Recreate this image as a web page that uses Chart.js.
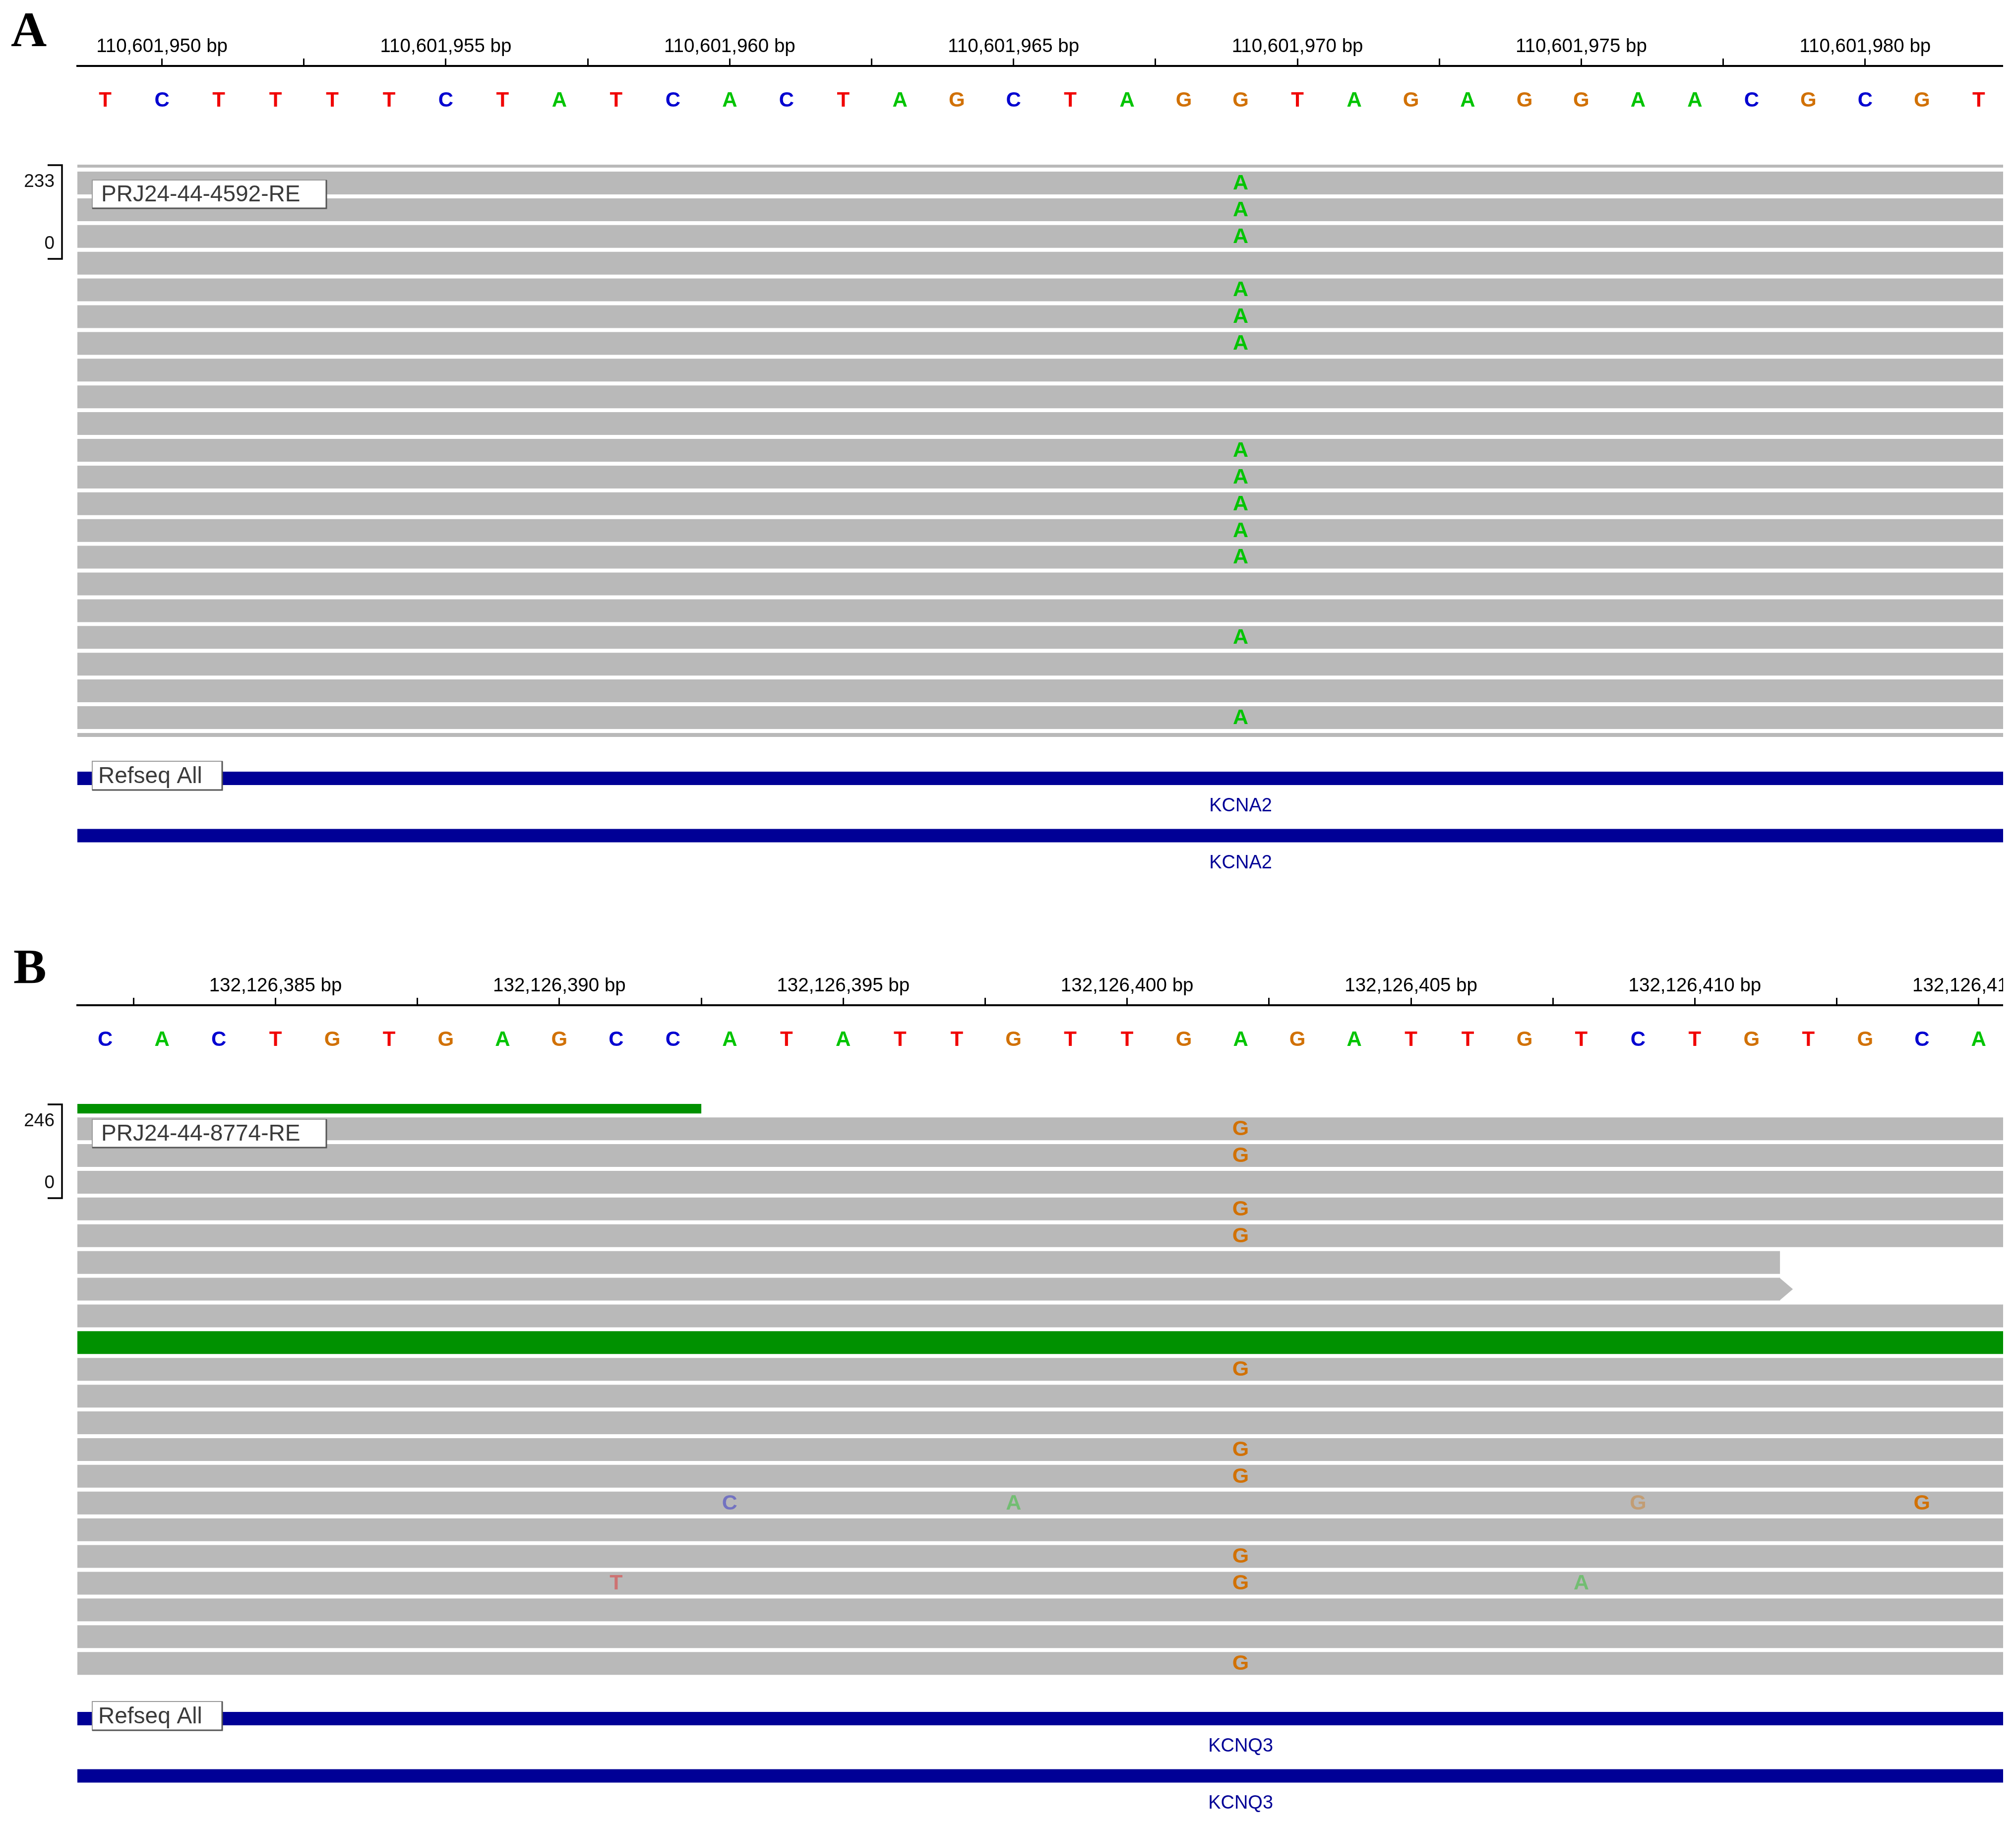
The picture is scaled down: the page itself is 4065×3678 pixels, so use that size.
<!DOCTYPE html>
<html>
<head>
<meta charset="utf-8">
<script src="https://cdn.jsdelivr.net/npm/chart.js@4.4.1/dist/chart.umd.min.js"></script>
<style>
html,body{margin:0;padding:0;background:#fff;}
#fig{position:relative;width:4065px;height:3678px;background:#fff;overflow:hidden;}
#fig canvas{position:absolute;left:0;}
</style>
</head>
<body>
<div id="fig">
<canvas id="readsA" width="4065" height="1486" style="top:0px"></canvas>
<canvas id="genesA" width="4065" height="408" style="top:1486px"></canvas>
<canvas id="readsB" width="4065" height="1486" style="top:1894px"></canvas>
<canvas id="genesB" width="4065" height="298" style="top:3380px"></canvas>
</div>
<script>
// ---------------- DATA : panel A (KCNA2) ----------------
const sampleA = 'PRJ24-44-4592-RE';
const viewA = [110601948.51, 110601982.43];          // visible genomic window (bp)
const locusA = 110601969;                            // IGV locus (window centre)
const rulerMajorA = [110601950, 110601955, 110601960, 110601965, 110601970, 110601975, 110601980];
const seqStartA = 110601949;
const basesA = ['T','C','T','T','T','T','C','T','A','T','C','A','C','T','A','G','C','T','A','G','G','T','A','G','A','G','G','A','A','C','G','C','G','T'];
const coverageRangeA = [0, 233];
const readRowA   = [-1, 0, 1, 2, 3, 4, 5, 6, 7, 8, 9, 10, 11, 12, 13, 14, 15, 16, 17, 18, 19, 20, 21];
const readFirstA = [110601836, 110601862, 110601841, 110601877, 110601855, 110601845, 110601868, 110601846, 110601873, 110601838, 110601859, 110601881, 110601850, 110601837, 110601866, 110601843, 110601875, 110601857, 110601840, 110601870, 110601848, 110601863, 110601839];
const readLastA  = [110601985, 110602011, 110601990, 110602026, 110602004, 110601994, 110602017, 110601995, 110602022, 110601987, 110602008, 110602030, 110601999, 110601986, 110602015, 110601992, 110602024, 110602006, 110601989, 110602019, 110601997, 110602012, 110601988];
const readStrandA = ['+','-','+','-','+','+','-','+','-','-','+','-','+','+','-','+','-','-','+','-','+','+','-'];
const readInsertA = ['normal','normal','normal','normal','normal','normal','normal','normal','normal','normal','normal','normal','normal','normal','normal','normal','normal','normal','normal','normal','normal','normal','normal'];
const mmRowA  = [0, 1, 2, 4, 5, 6, 10, 11, 12, 13, 14, 17, 20];
const mmPosA  = [110601969, 110601969, 110601969, 110601969, 110601969, 110601969, 110601969, 110601969, 110601969, 110601969, 110601969, 110601969, 110601969];
const mmBaseA = ['A','A','A','A','A','A','A','A','A','A','A','A','A'];
const mmQualA = ['high','high','high','high','high','high','high','high','high','high','high','high','high'];
const geneNameA  = ['KCNA2', 'KCNA2'];
const geneStartA = [110593578, 110593578];
const geneEndA   = [110631478, 110631478];

// ---------------- DATA : panel B (KCNQ3) ----------------
const sampleB = 'PRJ24-44-8774-RE';
const viewB = [132126381.51, 132126415.43];
const locusB = 132126402;
const rulerMajorB = [132126385, 132126390, 132126395, 132126400, 132126405, 132126410, 132126415];
const seqStartB = 132126382;
const basesB = ['C','A','C','T','G','T','G','A','G','C','C','A','T','A','T','T','G','T','T','G','A','G','A','T','T','G','T','C','T','G','T','G','C','A'];
const coverageRangeB = [0, 246];
const readRowB   = [-1, 0, 1, 2, 3, 4, 5, 6, 7, 8, 9, 10, 11, 12, 13, 14, 15, 16, 17, 18, 19, 20];
const readFirstB = [132126243, 132126290, 132126301, 132126285, 132126312, 132126296, 132126262, 132126262, 132126318, 132126305, 132126288, 132126322, 132126299, 132126310, 132126283, 132126315, 132126293, 132126307, 132126280, 132126319, 132126302, 132126287];
const readLastB  = [132126392, 132126439, 132126450, 132126434, 132126461, 132126445, 132126411, 132126411, 132126467, 132126454, 132126437, 132126471, 132126448, 132126459, 132126432, 132126464, 132126442, 132126456, 132126429, 132126468, 132126451, 132126436];
const readStrandB = ['-','+','-','+','-','+','-','+','-','+','-','+','-','+','-','+','-','+','-','+','-','+'];
const readInsertB = ['large','normal','normal','normal','normal','normal','normal','normal','normal','large','normal','normal','normal','normal','normal','normal','normal','normal','normal','normal','normal','normal'];
const mmRowB  = [0, 1, 3, 4, 9, 12, 13, 14, 14, 14, 14, 16, 17, 17, 17, 20];
const mmPosB  = [132126402, 132126402, 132126402, 132126402, 132126402, 132126402, 132126402, 132126393, 132126398, 132126409, 132126414, 132126402, 132126391, 132126402, 132126408, 132126402];
const mmBaseB = ['G','G','G','G','G','G','G','C','A','G','G','G','T','G','A','G'];
const mmQualB = ['high','high','high','high','high','high','high','low','low','low','high','high','low','high','low','high'];
const geneNameB  = ['KCNQ3', 'KCNQ3'];
const geneStartB = [132120859, 132120859];
const geneEndB   = [132481099, 132481099];

// ---------------- STYLE ----------------
const FONT = "'Liberation Sans', Arial, Helvetica, sans-serif";
const SERIF = "'Liberation Serif', 'Times New Roman', serif";
const baseColors = {A: '#00C400', C: '#0000D0', G: '#D17105', T: '#F00000'};
const readGray = '#B9B9B9';
const readGreen = '#009100';
const geneBlue = '#000096';

Chart.defaults.animation = false;
Chart.defaults.responsive = false;
Chart.defaults.devicePixelRatio = 1;
Chart.defaults.events = [];
Chart.defaults.plugins.legend.display = false;
Chart.defaults.plugins.tooltip.enabled = false;

function drawBox(ctx, bx, by, bw, bh, text, tx) {
  ctx.fillStyle = '#ffffff';
  ctx.fillRect(bx, by, bw, bh);
  ctx.lineWidth = 2;
  ctx.strokeStyle = '#9a9a9a';
  ctx.strokeRect(bx, by, bw, bh);
  ctx.strokeStyle = '#555555';
  ctx.lineWidth = 3;
  ctx.beginPath();
  ctx.moveTo(bx, by + bh);
  ctx.lineTo(bx + bw, by + bh);
  ctx.lineTo(bx + bw, by);
  ctx.stroke();
  ctx.fillStyle = '#3a3a3a';
  ctx.font = `46px ${FONT}`;
  ctx.textAlign = 'left';
  ctx.textBaseline = 'middle';
  ctx.fillText(text, bx + tx, by + bh / 2 + 2);
}

function readsChart(id, d) {
  const normal = [], large = [];
  d.rows.forEach((r, i) => {
    const item = {y: r, x: [d.first[i] - 0.5, d.last[i] + 0.5]};
    (d.insert[i] === 'large' ? large : normal).push(item);
  });
  const plugin = {
    id: 'igvReads_' + id,
    beforeDraw(chart) {
      const c = chart.ctx;
      c.save();
      c.beginPath();
      c.rect(0, 0, chart.chartArea.right, chart.height);
      c.clip();
    },
    afterDatasetsDraw(chart) {
      const {ctx, chartArea: a, scales: {x, y}} = chart;
      ctx.save();
      ctx.beginPath();
      ctx.rect(a.left, a.top, a.right - a.left, a.bottom - a.top);
      ctx.clip();
      // strand arrows at the 3' end of forward reads
      d.rows.forEach((r, i) => {
        if (d.strand[i] !== '+') return;
        const xe = x.getPixelForValue(d.last[i] + 0.5);
        const yc = y.getPixelForValue(r);
        ctx.fillStyle = d.insert[i] === 'large' ? readGreen : readGray;
        ctx.beginPath();
        ctx.moveTo(xe - 1, yc - 23);
        ctx.lineTo(xe + 26, yc);
        ctx.lineTo(xe - 1, yc + 23);
        ctx.closePath();
        ctx.fill();
      });
      // mismatching bases
      ctx.font = `bold 43px ${FONT}`;
      ctx.textAlign = 'center';
      ctx.textBaseline = 'middle';
      d.mmRow.forEach((r, i) => {
        ctx.globalAlpha = d.mmQual[i] === 'low' ? 0.38 : 1;
        ctx.fillStyle = baseColors[d.mmBase[i]];
        ctx.fillText(d.mmBase[i], x.getPixelForValue(d.mmPos[i]), y.getPixelForValue(r) + 1);
      });
      ctx.restore();
    },
    afterDraw(chart) {
      const {ctx, chartArea: a} = chart;
      ctx.restore();
      ctx.save();
      // panel letter
      ctx.fillStyle = '#000';
      ctx.font = `bold 100px ${SERIF}`;
      ctx.textAlign = 'left';
      ctx.textBaseline = 'alphabetic';
      ctx.fillText(d.letter, d.letterX, d.letterY);
      // coverage data-range bracket
      const bxr = a.left - 31, bxl = a.left - 60, bt = a.top + 1, bb = a.top + 190;
      ctx.strokeStyle = '#000';
      ctx.lineWidth = 3.5;
      ctx.beginPath();
      ctx.moveTo(bxl, bt); ctx.lineTo(bxr, bt); ctx.lineTo(bxr, bb); ctx.lineTo(bxl, bb);
      ctx.stroke();
      ctx.font = `37px ${FONT}`;
      ctx.textAlign = 'right';
      ctx.textBaseline = 'middle';
      ctx.fillStyle = '#111';
      ctx.fillText(String(d.cov[1]), a.left - 46, bt + 34);
      ctx.fillText(String(d.cov[0]), a.left - 46, bb - 30);
      // track name
      drawBox(ctx, a.left + 30, a.top + 31, 472, 57, d.sample, 18);
      ctx.restore();
    }
  };
  const axisFit = (s) => { s.paddingLeft = 0; s.paddingRight = 0; };
  return new Chart(document.getElementById(id), {
    type: 'bar',
    data: {
      datasets: [
        {label: 'reads', data: normal, backgroundColor: readGray, xAxisID: 'x', yAxisID: 'y'},
        {label: 'reads (large insert)', data: large, backgroundColor: readGreen, xAxisID: 'x', yAxisID: 'y'}
      ]
    },
    options: {
      indexAxis: 'y',
      layout: {padding: {left: 156, right: 26, top: 69.8, bottom: 0}},
      datasets: {bar: {grouped: false, barPercentage: 1, categoryPercentage: 1, barThickness: 46, maxBarThickness: 46, borderWidth: 0, clip: 0, inflateAmount: 0}},
      scales: {
        x: {
          type: 'linear', position: 'top', weight: 2, min: d.view[0], max: d.view[1],
          bounds: 'data', beginAtZero: false, offset: false,
          afterBuildTicks: (s) => {
            const t = [];
            d.majors.forEach((m) => { t.push(m - 2.5, m); });
            t.push(d.majors[d.majors.length - 1] + 2.5);
            s.ticks = t.filter((v) => v >= s.min && v <= s.max).map((v) => ({value: v}));
          },
          afterFit: axisFit,
          ticks: {
            autoSkip: false, maxRotation: 0, minRotation: 0, padding: 1, color: '#000',
            font: {family: FONT, size: 38.5, lineHeight: 1.2},
            callback: (v) => d.majors.includes(v) ? v.toLocaleString('en-US') + ' bp' : ''
          },
          grid: {display: true, drawOnChartArea: false, drawTicks: true, tickLength: 15, color: '#000', lineWidth: 3, tickWidth: 3},
          border: {display: true, color: '#000', width: 4}
        },
        xSeq: {
          type: 'linear', position: 'top', weight: 1, min: d.view[0], max: d.view[1],
          bounds: 'data', beginAtZero: false, offset: false,
          afterBuildTicks: (s) => { s.ticks = d.bases.map((b, i) => ({value: d.seqStart + i})); },
          afterFit: axisFit,
          ticks: {
            autoSkip: false, maxRotation: 0, minRotation: 0, padding: 0,
            font: {family: FONT, size: 42, weight: 'bold', lineHeight: '140px'},
            color: (c) => baseColors[c.tick ? c.tick.label : 'A'],
            callback: (v, i) => d.bases[i]
          },
          grid: {display: true, drawOnChartArea: false, drawTicks: true, tickLength: 59, color: 'rgba(0,0,0,0)', lineWidth: 1},
          border: {display: false}
        },
        y: {type: 'linear', display: false, reverse: true, min: d.yMin, max: d.yMax, offset: false, beginAtZero: false}
      }
    },
    plugins: [plugin]
  });
}

function genesChart(id, g) {
  const plugin = {
    id: 'igvGenes_' + id,
    afterDatasetsDraw(chart) {
      const {ctx, scales: {x, y}} = chart;
      ctx.save();
      ctx.font = `38px ${FONT}`;
      ctx.fillStyle = geneBlue;
      ctx.textAlign = 'center';
      ctx.textBaseline = 'middle';
      g.names.forEach((n, i) => {
        ctx.fillText(n, x.getPixelForValue(g.locus), y.getPixelForValue(i) + 56);
      });
      ctx.restore();
    },
    afterDraw(chart) {
      const {ctx, chartArea: a, scales: {y}} = chart;
      ctx.save();
      drawBox(ctx, a.left + 30, y.getPixelForValue(0) - 34.5, 262, 58, 'Refseq All', 12);
      ctx.restore();
    }
  };
  return new Chart(document.getElementById(id), {
    type: 'bar',
    data: {
      datasets: [{
        label: 'Refseq All',
        data: g.names.map((n, i) => ({y: i, x: [g.start[i], g.end[i]]})),
        backgroundColor: geneBlue, xAxisID: 'x', yAxisID: 'y'
      }]
    },
    options: {
      indexAxis: 'y',
      layout: {padding: {left: 156, right: 26, top: g.padTop, bottom: g.padBottom}},
      datasets: {bar: {grouped: false, barPercentage: 1, categoryPercentage: 1, barThickness: 27, maxBarThickness: 27, borderWidth: 0, clip: 0, inflateAmount: 0}},
      scales: {
        x: {type: 'linear', display: false, min: g.view[0], max: g.view[1], bounds: 'data', beginAtZero: false},
        y: {type: 'linear', display: false, reverse: true, min: -0.5, max: 1.5, offset: false, beginAtZero: false}
      }
    },
    plugins: [plugin]
  });
}

readsChart('readsA', {
  letter: 'A', letterX: 22, letterY: 93, sample: sampleA, view: viewA, majors: rulerMajorA,
  seqStart: seqStartA, bases: basesA, cov: coverageRangeA,
  rows: readRowA, first: readFirstA, last: readLastA, strand: readStrandA, insert: readInsertA,
  mmRow: mmRowA, mmPos: mmPosA, mmBase: mmBaseA, mmQual: mmQualA,
  yMin: -0.686, yMax: 20.724
});
genesChart('genesA', {names: geneNameA, start: geneStartA, end: geneEndA, view: viewA, locus: locusA, padTop: 25.75, padBottom: 151.25});

readsChart('readsB', {
  letter: 'B', letterX: 27, letterY: 88, sample: sampleB, view: viewB, majors: rulerMajorB,
  seqStart: seqStartB, bases: basesB, cov: coverageRangeB,
  rows: readRowB, first: readFirstB, last: readLastB, strand: readStrandB, insert: readInsertB,
  mmRow: mmRowB, mmPos: mmPosB, mmBase: mmBaseB, mmQual: mmQualB,
  yMin: -0.93, yMax: 20.48
});
genesChart('genesB', {names: geneNameB, start: geneStartB, end: geneEndB, view: viewB, locus: locusB, padTop: 27.75, padBottom: 39.25});
</script>
</body>
</html>
